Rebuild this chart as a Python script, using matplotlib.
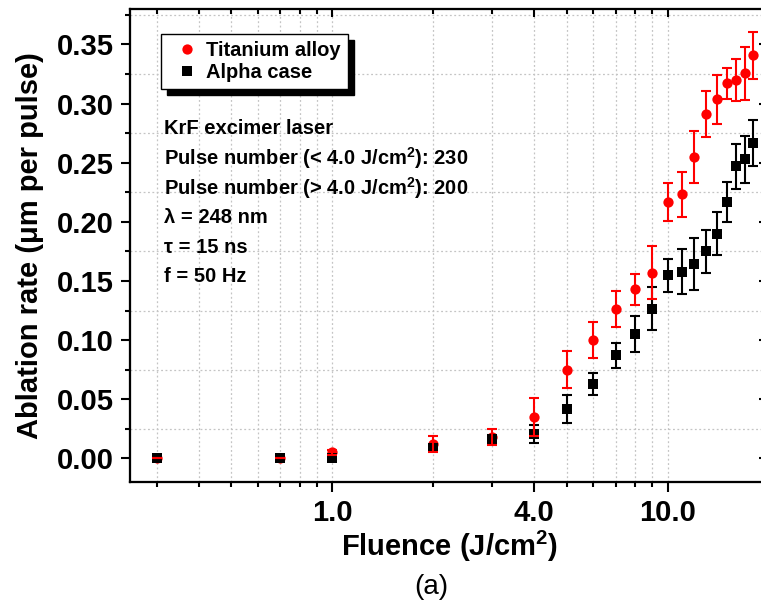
import matplotlib
matplotlib.use("Agg")
import matplotlib.pyplot as plt
from matplotlib.ticker import FixedLocator, FixedFormatter, NullFormatter

# ---------------- data ----------------
fluence = [0.3, 0.7, 1.0, 2.0, 3.0, 4.0, 5.0, 6.0, 7.0, 8.0, 9.0,
           10.0, 11.0, 12.0, 13.0, 14.0, 15.0, 16.0, 17.0, 18.0]
ti_rate = [0.0, 0.0, 0.005, 0.012, 0.018, 0.035, 0.075, 0.100, 0.1265, 0.143,
           0.157, 0.217, 0.2235, 0.255, 0.291, 0.3035, 0.317, 0.320, 0.3255, 0.3407]
ti_err = [0.0, 0.0, 0.002, 0.007, 0.007, 0.016, 0.0155, 0.015, 0.015, 0.013,
          0.0225, 0.016, 0.019, 0.022, 0.0195, 0.021, 0.013, 0.0175, 0.0225, 0.020]
alpha_rate = [0.0, 0.0, 0.0, 0.009, 0.0158, 0.0206, 0.0417, 0.0628, 0.0871, 0.105,
              0.1265, 0.155, 0.158, 0.164, 0.175, 0.190, 0.217, 0.247, 0.253, 0.2666]
alpha_err = [0.0, 0.0, 0.0, 0.003, 0.004, 0.0075, 0.0115, 0.0095, 0.0105, 0.015,
             0.018, 0.014, 0.019, 0.022, 0.018, 0.018, 0.017, 0.019, 0.020, 0.0195]

series_labels = ["Titanium alloy", "Alpha case"]
x_major = [1.0, 4.0, 10.0]
x_major_labels = ["1.0", "4.0", "10.0"]
x_minor = [0.3, 0.4, 0.5, 0.6, 0.7, 0.8, 0.9, 2.0, 3.0, 5.0, 6.0, 7.0, 8.0, 9.0]
y_major = [0.00, 0.05, 0.10, 0.15, 0.20, 0.25, 0.30, 0.35]
y_minor = [0.025, 0.075, 0.125, 0.175, 0.225, 0.275, 0.325, 0.375]
info_lines = ["KrF excimer laser",
              r"Pulse number (< 4.0 J/cm$^{\mathbf{2}}$): 230",
              r"Pulse number (> 4.0 J/cm$^{\mathbf{2}}$): 200",
              "λ = 248 nm",
              "τ = 15 ns",
              "f = 50 Hz"]

# ---------------- figure ----------------
plt.rcParams['font.family'] = ['Liberation Sans', 'DejaVu Sans']
plt.rcParams['mathtext.fontset'] = 'custom'
plt.rcParams['mathtext.rm'] = 'Liberation Sans'
plt.rcParams['mathtext.bf'] = 'Liberation Sans:bold'
W, H = 761, 607
fig = plt.figure(figsize=(W / 100, H / 100), dpi=100)
L, R, T, B = 130, 768.8, 9, 482
ax = fig.add_axes([L / W, 1 - B / H, (R - L) / W, (B - T) / H])

ax.set_xscale('log')
ax.set_xlim(0.25, 20)
ax.set_ylim(-0.02, 0.38)

red = '#ff0000'
# markers
ax.plot(fluence, ti_rate, linestyle='none', marker='o', ms=7.4, color=red,
        mew=0, zorder=3, label=series_labels[0])
ax.plot(fluence, alpha_rate, linestyle='none', marker='s', ms=6.6, color='black',
        mew=0, zorder=4, label=series_labels[1])
# error bars
ax.errorbar(fluence, alpha_rate, yerr=alpha_err, fmt='none', ecolor='black',
            elinewidth=1.5, capsize=3.9, capthick=1.5, zorder=5)
ax.errorbar(fluence, ti_rate, yerr=ti_err, fmt='none', ecolor=red,
            elinewidth=1.5, capsize=3.9, capthick=1.5, zorder=6)

# ticks
ax.xaxis.set_major_locator(FixedLocator(x_major))
ax.xaxis.set_major_formatter(FixedFormatter(x_major_labels))
ax.xaxis.set_minor_locator(FixedLocator(x_minor))
ax.xaxis.set_minor_formatter(NullFormatter())
ax.yaxis.set_major_locator(FixedLocator(y_major))
ax.set_yticklabels([f"{v:.2f}" for v in y_major])
ax.yaxis.set_minor_locator(FixedLocator(y_minor))

for lab in ax.get_xticklabels() + ax.get_yticklabels():
    lab.set_fontsize(21)
    lab.set_fontweight('bold')

ax.tick_params(which='both', direction='out', top=False, right=False, width=1.5)
ax.tick_params(axis='x', which='major', length=7.2, pad=5)
ax.tick_params(axis='x', which='minor', length=3.5)
ax.tick_params(axis='y', which='major', length=6.5, pad=5)
ax.tick_params(axis='y', which='minor', length=3.5)

for sp in ax.spines.values():
    sp.set_linewidth(1.5)

# grid
gkw = dict(color='#c4c4c4', linestyle=(0, (1.5, 2.0)), linewidth=0.9)
ax.grid(True, axis='x', which='both', **gkw)
ax.grid(True, axis='y', which='minor', **gkw)
ax.grid(False, axis='y', which='major')
ax.set_axisbelow(True)

# mirrored inward ticks on top and right
axt = ax.twiny()
axt.set_xscale('log')
axt.set_xlim(ax.get_xlim())
axt.xaxis.set_major_locator(FixedLocator(x_major))
axt.xaxis.set_minor_locator(FixedLocator(x_minor))
axt.xaxis.set_major_formatter(NullFormatter())
axt.xaxis.set_minor_formatter(NullFormatter())
axt.tick_params(axis='x', which='both', direction='in', width=1.5)
axt.tick_params(axis='x', which='major', length=5.5)
axt.tick_params(axis='x', which='minor', length=3.5)
axr = ax.twinx()
axr.set_ylim(ax.get_ylim())
axr.yaxis.set_major_locator(FixedLocator(y_major))
axr.yaxis.set_minor_locator(FixedLocator(y_minor))
axr.yaxis.set_major_formatter(NullFormatter())
axr.tick_params(axis='y', which='both', direction='in', width=1.5)
axr.tick_params(axis='y', which='major', length=7.5)
axr.tick_params(axis='y', which='minor', length=3.5)
for a in (axt, axr):
    for sp in a.spines.values():
        sp.set_linewidth(1.5)

# labels
ax.set_xlabel(r"Fluence (J/cm$^{\mathbf{2}}$)", fontsize=21, fontweight='bold', va='center')
ax.xaxis.set_label_coords(0.5005, -(546 - B) / (B - T))
ax.set_ylabel("Ablation rate (μm per pulse)", fontsize=21, fontweight='bold', va='center')
ax.yaxis.set_label_coords((30 - L) / (R - L), 0.5)

fig.text(431 / W, 1 - 587 / H, "(a)", fontsize=20, ha='center', va='center')

# legend
leg = ax.legend(loc='upper left', bbox_to_anchor=((161 - L) / (R - L), 1 - (34 - T) / (B - T)),
                borderaxespad=0, prop={'weight': 'bold', 'size': 14.5},
                frameon=True, fancybox=False, edgecolor='black', framealpha=1,
                borderpad=0.35, labelspacing=0.15, handlelength=1.9, handletextpad=0.0,
                numpoints=1,
                shadow={'ox': 4.5, 'oy': -4.5, 'facecolor': 'black', 'edgecolor': 'black', 'alpha': 1})
leg.get_frame().set_linewidth(1.0)
leg.set_zorder(10)

# info text
y0 = 128.3
dy = 29.7
for i, line in enumerate(info_lines):
    ax.text((164 - L) / (R - L), 1 - (y0 + i * dy - T) / (B - T), line,
            transform=ax.transAxes, fontsize=14.5, fontweight='bold',
            ha='left', va='center', zorder=10)

fig.savefig("out.png", dpi=100)
